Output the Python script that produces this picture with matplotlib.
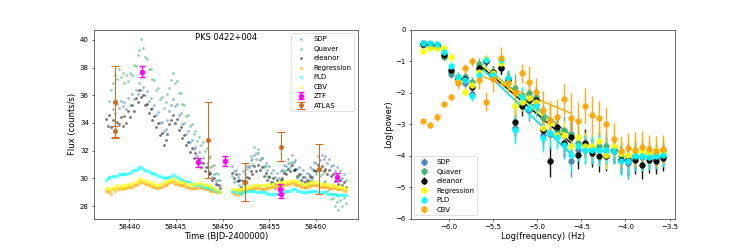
import numpy as np
import matplotlib
matplotlib.use("Agg")
import matplotlib.pyplot as plt

nan = np.nan

# --- light curves (TESS, two orbits, 0.2 d cadence) ---
time_orbit1 = np.arange(58437.5, 58449.75, 0.2)
time_orbit2 = np.arange(58451.0, 58463.25, 0.2)

sdp_flux = [
    nan, nan, nan, nan, 35.0, 34.7, 35.4, 35.1, 35.6, 35.2,
    35.5, 35.0, 35.8, 35.3, 36.1, 35.7, 36.4, 36.1, 36.9, 36.4,
    36.6, 36.0, 36.3, 35.6, 35.8, 35.1, 35.3, 34.6, 34.8, 34.0,
    34.1, 33.4, 33.6, 34.2, 34.9, 35.3, 35.7, 35.2, 35.4, 34.6,
    34.7, 33.9, 34.0, 33.2, 33.4, 32.6, 32.8, 32.1, 32.3, 31.6,
    31.9, 31.2, 31.5, 30.8, 31.1, 30.5, 30.8, 30.1, 30.3, 29.8,
    29.9, 29.5,
    30.9, 30.5, 30.6, 30.1, 30.3, 29.9, 30.5, 30.3, 30.9, 30.8,
    31.3, 31.0, 31.7, 31.4, 31.8, 31.3, 31.5, 30.9, 31.1, 30.6,
    30.9, 30.4, 30.6, 30.1, 30.4, 30.0, 30.5, 30.6, 31.0, 30.9,
    31.4, 31.1, 31.7, 31.2, 31.3, 30.7, 30.8, 30.3, 30.6, 30.1,
    30.4, 30.3, 30.8, 30.7, 31.2, 31.1, 31.6, 31.3, 31.7, 31.4,
    31.6, 31.1, 31.4, 30.9, 31.0, 30.5, 30.8, 30.2, 30.5, 30.0,
    30.3, 29.9,
]
quaver_flux = [
    nan, nan, 35.6, 36.4, 36.9, 37.5, 37.2, 37.9, 37.3, 37.6,
    36.9, 37.5, 37.0, 37.6, 37.5, 38.2, 38.1, 38.9, 39.3, 40.1,
    39.4, 38.8, 38.6, 37.9, 37.9, 37.2, 37.1, 36.4, 36.5, 35.7,
    35.9, 35.1, 35.5, 36.1, 36.5, 37.1, 37.6, 36.9, 37.0, 36.2,
    36.2, 35.4, 35.3, 34.5, 34.6, 33.8, 33.9, 33.2, 33.4, 32.7,
    33.0, 32.4, 32.6, 32.0, 32.2, 31.5, 31.6, 30.9, 31.0, 30.4,
    30.3, 29.9,
    30.2, 29.7, 29.8, 29.2, 29.5, 28.9, 29.6, 29.9, 30.7, 30.9,
    31.6, 31.4, 32.3, 31.8, 32.1, 31.4, 31.5, 30.8, 30.9, 30.2,
    30.2, 29.6, 29.7, 29.2, 29.5, 29.1, 29.7, 29.9, 30.5, 30.6,
    31.1, 30.8, 31.2, 30.6, 30.6, 30.0, 30.2, 29.6, 29.8, 29.3,
    29.6, 29.5, 30.0, 29.9, 30.5, 30.3, 30.7, 30.2, 30.3, 29.7,
    29.8, 29.1, 29.2, 28.5, 28.6, 28.0, 28.3, 27.7, 28.4, 28.0,
    28.6, 28.2,
]
eleanor_flux = [
    34.3, 33.8, 34.6, 33.7, 34.2, 33.5, 34.1, 33.9, 34.4, 33.8,
    34.5, 34.0, 34.9, 34.4, 35.3, 34.9, 35.8, 35.5, 36.4, 35.9,
    36.0, 35.3, 35.4, 34.7, 35.0, 34.2, 34.5, 33.7, 34.0, 33.1,
    33.3, 32.4, 32.8, 33.2, 33.9, 34.2, 34.6, 34.0, 34.3, 33.5,
    33.7, 32.9, 33.1, 32.4, 32.6, 31.9, 32.2, 31.5, 31.8, 31.2,
    31.4, 30.8, 31.1, 30.5, 30.8, 30.3, 30.4, 29.9, 30.0, 29.6,
    29.5, 29.3,
    30.4, 30.0, 30.3, 29.8, 29.9, 29.4, 29.8, 29.6, 30.1, 30.0,
    30.5, 30.3, 30.9, 30.5, 31.0, 30.6, 30.8, 30.2, 30.4, 29.9,
    30.1, 29.7, 30.0, 29.6, 29.9, 29.5, 29.9, 30.0, 30.4, 30.3,
    30.7, 30.5, 31.0, 30.6, 30.7, 30.2, 30.3, 29.9, 30.1, 29.7,
    29.9, 29.8, 30.2, 30.1, 30.6, 30.5, 31.0, 30.6, 30.9, 30.5,
    30.7, 30.3, 30.6, 30.2, 30.3, 29.8, 30.0, 29.6, 29.9, 29.5,
    29.7, 29.4,
]
regression_flux = [
    29.1, 29.0, 29.1, 28.9, 29.2, 29.1, 29.3, 29.2, 29.3, 29.2,
    29.3, 29.3, 29.4, 29.4, 29.4, 29.5, 29.5, 29.6, 29.8, 29.7,
    29.7, 29.6, 29.6, 29.5, 29.5, 29.4, 29.4, 29.3, 29.3, 29.4,
    29.4, 29.5, 29.5, 29.6, 29.7, 29.7, 29.8, 29.6, 29.6, 29.5,
    29.5, 29.5, 29.5, 29.4, 29.4, 29.3, 29.3, 29.3, 29.3, 29.3,
    29.4, 29.3, 29.3, 29.2, 29.2, 29.2, 29.1, 29.1, 29.1, 29.0,
    29.0, 29.0,
    29.0, 28.9, 28.9, 28.8, 29.0, 29.0, 29.1, 29.1, 29.2, 29.2,
    29.2, 29.3, 29.3, 29.3, 29.3, 29.3, 29.2, 29.2, 29.3, 29.3,
    29.3, 29.4, 29.4, 29.4, 29.4, 29.5, 29.5, 29.5, 29.5, 29.6,
    29.6, 29.6, 29.7, 29.6, 29.6, 29.5, 29.5, 29.4, 29.4, 29.4,
    29.4, 29.4, 29.5, 29.5, 29.5, 29.5, 29.5, 29.4, 29.4, 29.4,
    29.4, 29.4, 29.3, 29.3, 29.3, 29.3, 29.2, 29.2, 29.2, 29.2,
    29.1, 29.1,
]
pld_flux = [
    29.9, 30.0, 30.1, 30.1, 30.2, 30.2, 30.2, 30.3, 30.3, 30.3,
    30.3, 30.3, 30.4, 30.4, 30.5, 30.6, 30.6, 30.7, 30.8, 30.8,
    30.7, 30.6, 30.5, 30.5, 30.4, 30.4, 30.3, 30.3, 30.2, 30.2,
    30.1, 30.0, 30.0, 30.1, 30.1, 30.2, 30.3, 30.2, 30.1, 30.0,
    29.9, 29.9, 29.8, 29.8, 29.7, 29.7, 29.6, 29.6, 29.5, 29.5,
    29.5, 29.5, 29.4, 29.4, 29.4, 29.3, 29.3, 29.2, 29.2, 29.1,
    29.1, 29.0,
    29.1, 29.1, 29.0, 29.0, 29.0, 28.9, 29.0, 29.0, 29.1, 29.1,
    29.1, 29.1, 29.1, 29.0, 29.0, 29.0, 29.0, 29.0, 29.0, 28.9,
    28.9, 28.9, 28.9, 28.9, 28.9, 28.9, 28.9, 29.0, 29.0, 29.1,
    29.1, 29.1, 29.2, 29.2, 29.2, 29.1, 29.1, 29.0, 29.0, 29.0,
    29.0, 29.0, 29.1, 29.1, 29.1, 29.1, 29.0, 29.0, 29.0, 29.0,
    29.0, 28.9, 28.9, 28.9, 28.9, 28.9, 28.8, 28.8, 28.8, 28.8,
    28.8, 28.8,
]
cbv_flux = [
    29.3, 29.2, 29.3, 29.2, 29.4, 29.3, 29.5, 29.4, 29.5, 29.4,
    29.5, 29.5, 29.6, 29.6, 29.6, 29.7, 29.7, 29.8, 30.0, 29.9,
    29.9, 29.8, 29.8, 29.7, 29.7, 29.6, 29.6, 29.5, 29.5, 29.6,
    29.6, 29.7, 29.7, 29.8, 29.9, 29.9, 30.0, 29.8, 29.8, 29.7,
    29.7, 29.7, 29.7, 29.6, 29.6, 29.6, 29.6, 29.6, 29.6, 29.6,
    29.7, 29.6, 29.6, 29.5, 29.5, 29.5, 29.4, 29.4, 29.3, 29.2,
    29.1, 29.0,
    29.2, 29.2, 29.2, 29.1, 29.2, 29.2, 29.3, 29.3, 29.4, 29.4,
    29.4, 29.5, 29.5, 29.5, 29.5, 29.5, 29.5, 29.5, 29.5, 29.5,
    29.6, 29.6, 29.6, 29.6, 29.6, 29.7, 29.7, 29.7, 29.7, 29.8,
    29.8, 29.8, 29.9, 29.8, 29.8, 29.7, 29.7, 29.6, 29.6, 29.6,
    29.6, 29.6, 29.7, 29.7, 29.7, 29.7, 29.7, 29.6, 29.6, 29.6,
    29.6, 29.6, 29.5, 29.5, 29.5, 29.5, 29.4, 29.4, 29.4, 29.4,
    29.3, 29.3,
]

# ground-based photometry
ztf_time = [58441.35, 58447.35, 58450.25, 58456.15, 58456.2, 58462.2]
ztf_flux = [37.7, 31.15, 31.25, 29.25, 28.9, 30.1]
ztf_err = [0.4, 0.35, 0.35, 0.35, 0.3, 0.3]
atlas_time = [58438.5, 58438.5, 58448.4, 58452.4, 58456.3, 58460.35]
atlas_flux = [35.5, 33.4, 32.75, 29.75, 32.3, 30.65]
atlas_err = [2.6, 0.4, 2.75, 1.37, 1.05, 1.8]

# --- power spectra ---
log_freq = [-6.295, -6.215, -6.135, -6.055, -5.975, -5.895, -5.815, -5.735,
            -5.655, -5.575, -5.495, -5.415, -5.335, -5.255, -5.175, -5.095,
            -5.015, -4.935, -4.855, -4.775, -4.695, -4.615, -4.535, -4.455,
            -4.375, -4.295, -4.215, -4.135, -4.055, -3.975, -3.895, -3.815,
            -3.735, -3.655, -3.575]
psd_sdp = [-0.42, -0.44, -0.48, -0.77, -1.40, -1.64, -1.68, -2.03, -1.25, -0.97,
           -1.45, -1.22, -1.55, -3.10, -2.25, -2.55, -2.35, -3.33, -3.30, -3.35,
           -3.62, -4.18, -3.81, -3.82, -3.80, -3.78, -3.85, -3.86, -4.12, -4.23,
           -4.05, -4.05, -4.05, -4.08, -4.02]
psd_quaver = [-0.47, -0.53, -0.54, -0.85, -1.33, -1.50, -1.50, -1.64, -1.08, -0.95,
              -1.35, -1.18, -1.53, -1.85, -2.10, -2.01, -2.12, -2.80, -2.88, -3.17,
              -3.17, -3.30, -3.60, -3.65, -3.74, -3.70, -3.68, -3.83, -4.00, -4.07,
              -3.97, -4.00, -3.92, -3.98, -3.86]
psd_eleanor = [-0.44, -0.46, -0.48, -0.78, -1.28, -1.55, -1.55, -1.80, -1.22, -1.00,
               -1.34, -1.20, -1.58, -2.91, -2.43, -2.22, -2.22, -3.17, -4.18, -3.07,
               -3.60, -3.39, -3.97, -3.60, -3.90, -4.02, -4.02, -3.83, -4.13, -4.13,
               -4.13, -4.29, -4.13, -4.18, -4.07]
psd_regression = [-0.66, -0.56, -0.57, -0.56, -0.85, -1.62, -1.96, -1.75, -1.32, -0.92,
                  -1.38, -1.06, -1.69, -2.43, -2.28, -2.17, -2.30, -3.12, -2.95, -3.33,
                  -3.33, -3.70, -3.39, -3.70, -3.70, -3.54, -3.97, -3.68, -3.92, -3.97,
                  -3.86, -3.86, -3.92, -3.81, -3.89]
psd_pld = [-0.42, -0.42, -0.44, -0.70, -1.14, -1.48, -1.60, -2.10, -1.43, -0.95,
           -1.43, -0.95, -1.53, -3.17, -2.12, -2.49, -2.43, -3.44, -3.28, -3.39,
           -3.65, -3.97, -3.70, -3.81, -3.81, -3.81, -3.81, -3.86, -4.18, -4.18,
           -4.02, -4.02, -4.04, -4.02, -3.97]
psd_cbv = [-2.89, -3.03, -2.76, -2.35, -2.12, -1.68, -1.22, -1.00, -1.59, -2.28,
           -1.57, -0.90, -1.69, -1.96, -1.38, -1.64, -1.96, -2.54, -2.86, -2.75,
           -2.20, -2.80, -2.88, -2.40, -2.70, -2.80, -3.00, -3.46, -3.86, -3.76,
           -3.80, -3.72, -3.78, -3.86, -3.79]
psd_err = [0.05, 0.05, 0.05, 0.08, 0.12, 0.15, 0.15, 0.15, 0.2, 0.15,
           0.2, 0.2, 0.25, 0.45, 0.3, 0.35, 0.35, 0.45, 0.5, 0.4,
           0.45, 0.5, 0.45, 0.45, 0.45, 0.5, 0.45, 0.4, 0.45, 0.5,
           0.45, 0.45, 0.4, 0.4, 0.4]
psd_err_cbv = [0.05, 0.05, 0.12, 0.1, 0.1, 0.2, 0.15, 0.15, 0.3, 0.3,
               0.4, 0.35, 0.3, 0.45, 0.3, 0.5, 0.45, 0.6, 0.6, 0.55,
               0.5, 0.8, 0.6, 0.55, 0.6, 0.55, 0.55, 0.5, 0.5, 0.5,
               0.55, 0.5, 0.45, 0.5, 0.45]

# power-law fits: log(power) at both ends of the fitted range
fit_range = [-5.655, -4.615]
fit_sdp = [-1.15, -3.95]
fit_quaver = [-1.05, -3.35]
fit_eleanor = [-1.10, -3.60]
fit_regression = [-1.05, -3.50]
fit_pld = [-1.15, -3.92]
fit_cbv = [-1.43, -2.65]

fig, (ax1, ax2) = plt.subplots(1, 2, figsize=(15, 5), dpi=50)
fig.subplots_adjust(bottom=0.125)

# left: light curves (noisy ones small dots, systematics-corrected ones as bands)
t = np.concatenate([time_orbit1, time_orbit2])
lc = [("SDP", sdp_flux, "steelblue", 16), ("Quaver", quaver_flux, "mediumseagreen", 16),
      ("eleanor", eleanor_flux, "black", 16), ("Regression", regression_flux, "orange", 26),
      ("PLD", pld_flux, "cyan", 26), ("CBV", cbv_flux, "yellow", 26)]
for name, flux, c, size in lc:
    ax1.scatter(t, flux, s=size, color=c, alpha=0.55, lw=0, label=name)
ax1.errorbar(ztf_time, ztf_flux, yerr=ztf_err, fmt="o", color="magenta",
             ms=7, elinewidth=2, capsize=5, capthick=2, label="ZTF")
ax1.errorbar(atlas_time, atlas_flux, yerr=atlas_err, fmt="o", color="chocolate",
             ms=6, elinewidth=1.5, capsize=6, capthick=1.5, label="ATLAS")
ax1.ticklabel_format(axis="x", useOffset=False)
ax1.text(0.5, 0.985, "PKS 0422+004", transform=ax1.transAxes,
         ha="center", va="top", fontsize=12)
ax1.set_xlabel("Time (BJD-2400000)", fontsize=12)
ax1.set_ylabel("Flux (counts/s)", fontsize=12)
ax1.legend(loc="upper right", fontsize=10)

# right: power spectra with fits
psd = [("SDP", psd_sdp, psd_err, fit_sdp, "steelblue"),
       ("Quaver", psd_quaver, psd_err, fit_quaver, "mediumseagreen"),
       ("eleanor", psd_eleanor, psd_err, fit_eleanor, "black"),
       ("Regression", psd_regression, psd_err, fit_regression, "yellow"),
       ("PLD", psd_pld, psd_err, fit_pld, "cyan"),
       ("CBV", psd_cbv, psd_err_cbv, fit_cbv, "orange")]
for name, p, e, fit, c in psd:
    ax2.errorbar(log_freq, p, yerr=e, fmt="o", color=c, ms=8,
                 elinewidth=2, alpha=0.9, label=name)
    ax2.plot(fit_range, fit, color=c, lw=2)
ax2.set_ylim(-6, 0)
ax2.set_xlabel("Log(frequency) (Hz)", fontsize=12)
ax2.set_ylabel("Log(power)", fontsize=12)
ax2.legend(loc="lower left", fontsize=10)

fig.savefig("out.png", dpi=50)
